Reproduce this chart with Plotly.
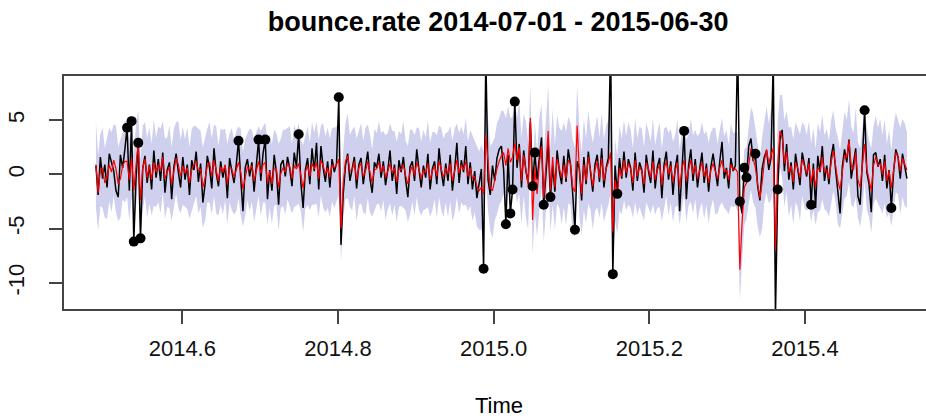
import plotly.graph_objects as go

# ---------------- data ----------------
T_START = 2014.489   # decimal-year position of first observation
T_END = 2015.531     # decimal-year position of last observation

ACTUAL = [
    0.8, -1.9, 1.6, -0.4, 0.9, -1.2, 1.9,
    1.2, 0.3, -1.5, -2.1, 1.8, 0.6, 2.3,
    4.3, -1.5, 4.9, -6.2, -0.4, 2.9, -5.9,
    0.5, 1.7, -0.8, 0.9, -1.4, 2.2, -0.3,
    1.4, -0.6, 2.0, -1.7, 0.4, 1.1, -2.3,
    0.7, 1.9, 0.2, -1.2, 1.6, -0.5, 0.9,
    -1.9, 1.3, 0.4, 2.1, -0.7, 1.0, -2.6,
    -0.9, 1.7, 0.6, -1.3, 2.4, 0.1, -1.1,
    1.2, -0.3, 0.8, -2.2, 1.5, 0.3, -0.8,
    0.9, 3.1, -0.4, -3.4, 0.6, 1.4, -0.2,
    1.1, -1.6, 0.8, 3.2, -0.6, 1.9, 3.2,
    -2.3, 0.4, -1.5, 1.8, 0.2, -2.8, 0.9,
    1.3, -0.2, 1.6, 0.5, -1.1, 2.0, 0.7,
    3.7, -0.8, -3.1, 0.4, 1.5, -0.9, 2.4,
    0.3, 2.9, -1.4, 2.6, 0.6, -0.7, 1.2,
    -1.2, 1.4, 0.2, 1.0, 7.1, -6.5, -1.8,
    0.8, 1.9, -0.6, 0.5, 1.6, -1.3, 0.9,
    1.5, -0.9, 0.7, 2.1, -0.4, -1.7, 1.1,
    0.6, 1.9, -0.3, 1.2, -1.0, 0.4, 2.2,
    -0.6, 0.9, -1.8, 1.3, 0.2, 1.6, -0.5,
    -2.1, 0.7, 1.2, -0.6, 2.3, 0.4, -1.2,
    0.8, -0.3, 1.9, -1.4, 0.5, 1.2, -0.9,
    2.4, 0.3, -1.1, 1.0, -0.6, 1.8, -1.5,
    0.4, 2.9, -0.8, 1.3, 0.2, 2.6, -0.9,
    1.1, -1.4, 0.3, -2.2, -0.9, 0.5, -8.7,
    11.0, -0.5, -1.9, 0.8, -0.6, 1.5, 2.3,
    2.6, 0.4, -4.6, 1.8, -3.6, -1.4, 6.7,
    0.6, 2.8, -1.2, 2.2, 0.3, -0.8, 4.8,
    -1.1, 2.0, -0.5, 1.4, 3.4, -2.8, 0.6,
    2.9, -2.1, 0.8, -1.6, 2.2, 0.3, -0.9,
    1.7, -0.7, 2.3, 0.9, -1.8, -5.1, 1.2,
    0.5, -2.4, 1.6, -0.9, 2.1, 0.2, -1.6,
    0.9, 1.8, -0.7, 2.4, -1.2, 0.6, 1.5,
    12.0, -9.2, 0.8, -1.8, 1.5, -0.4, 2.1,
    -0.3, 1.4, 0.6, -1.5, 2.0, -0.6, 1.1,
    0.4, -1.7, 1.8, 0.3, -0.8, 2.2, -1.3,
    0.7, 1.5, -2.2, 0.9, 2.1, -0.5, 1.2,
    -1.9, 0.6, 1.8, -3.4, 1.0, 4.0, -2.3,
    0.8, 2.3, -0.6, 1.4, -1.2, 0.5, 2.0,
    -0.8, 1.0, -1.6, 0.7, 1.9, 0.2, -1.1,
    1.2, 3.0, -0.4, 0.6, -1.3, 1.5, 0.3,
    0.8, 12.0, -2.5, -3.6, 0.6, -0.3, 2.6,
    3.3, 1.2, 1.9, -1.1, -2.4, 0.5, 1.6,
    2.2, 0.4, 1.5, 10.5, -13.0, -1.4, 3.2,
    4.1, 0.3, 2.8, -0.5, 1.1, -1.4, 1.9,
    0.4, -1.0, 2.0, 0.8, -0.2, 1.5, -2.8,
    1.0, -3.1, 1.7, 0.2, 2.6, -0.6, 0.8,
    -0.9, 1.6, 2.8, 0.4, -1.5, -3.6, 0.7,
    2.3, 1.1, 3.2, -0.4, 0.9, 2.4, -2.0,
    -2.8, 1.2, 5.9, 0.2, -0.9, -3.5, 1.8,
    2.0, 0.7, 1.4, -0.6, 1.8, -1.3, 0.4,
    -3.1, 0.2, 2.3, 1.6, -0.4, 1.9, 0.6,
    -0.4,
]

FITTED = [
    0.9, -1.7, 0.4, 0.6, -0.8, -0.3, 0.9,
    0.2, 1.3, 0.5, -0.9, -0.4, 0.8, 1.2,
    1.2, -0.5, 1.5, -1.5, 0.8, 2.9, -2.4,
    0.6, 1.4, -0.3, 0.8, -0.5, 1.1, 0.2,
    0.9, 0.3, 1.6, -0.4, 0.2, 0.7, -0.9,
    0.5, 1.5, 0.9, -0.2, 0.8, 0.1, 0.6,
    -0.8, 0.4, 0.9, 1.2, 0.3, 0.5, -1.2,
    -0.4, 0.8, 1.1, -0.2, 1.3, 0.4, -0.6,
    0.7, 0.2, 0.9, -0.9, 0.6, 0.5, -0.3,
    0.3, 1.1, 0.2, -1.4, -0.3, 0.7, 0.4,
    0.8, -0.6, 0.3, 1.2, 0.1, 0.9, 1.1,
    -0.8, 0.3, -0.9, 0.6, 0.5, -1.2, 0.1,
    0.6, 0.2, 1.0, 0.7, -0.4, 0.8, 0.5,
    1.0, -0.1, -1.3, 0.2, 0.8, -0.2, 1.0,
    0.5, 1.1, -0.4, 1.3, 0.8, 0.0, 0.6,
    -0.3, 0.9, 0.6, 0.9, 1.4, -5.0, -0.9,
    1.2, 1.7, 0.3, 0.4, 1.2, -0.5, 0.6,
    1.0, -0.2, 0.3, 1.2, 0.1, -0.8, 0.4,
    0.5, 1.1, 0.2, 0.8, -0.3, 0.3, 1.0,
    0.1, 0.6, -0.7, 0.5, 0.4, 0.9, -0.1,
    -0.9, 0.2, 0.8, -0.1, 1.1, 0.5, -0.4,
    0.4, 0.1, 1.0, -0.5, 0.3, 0.8, -0.2,
    1.2, 0.5, -0.3, 0.6, 0.0, 1.0, -0.6,
    0.3, 1.3, 0.1, 0.9, 0.4, 1.2, -0.2,
    0.6, -0.4, -0.2, -1.1, -1.5, -1.2, -1.8,
    3.6, 0.9, -1.3, -1.5, -0.4, 0.5, 1.2,
    1.7, 2.0, 0.8, 2.4, 1.1, 1.6, 2.9,
    1.3, 2.5, -0.6, 1.8, 0.4, -1.0, 5.2,
    -4.2, 0.6, -1.8, 0.9, 2.6, -2.2, 1.0,
    4.0, -1.5, 1.6, -1.2, 1.4, 0.6, -0.3,
    0.9, -0.4, 1.3, 1.0, -1.2, -1.6, 4.5,
    0.2, -1.8, 0.9, -0.6, 1.6, 0.4, -1.1,
    0.4, 1.2, -0.3, 1.5, -0.6, 0.5, 1.1,
    2.0, -5.3, -0.5, -1.9, 0.6, -0.2, 1.3,
    0.1, 1.0, 0.5, -0.8, 1.3, -0.2, 0.7,
    0.3, -0.9, 1.1, 0.5, -0.3, 1.2, -0.5,
    0.4, 0.9, -1.0, 0.5, 1.2, 0.0, 0.8,
    -0.7, 0.3, 1.1, -1.2, 0.5, 1.3, -0.6,
    0.4, 1.3, 0.0, 0.9, -0.4, 0.3, 1.1,
    -0.2, 0.6, -0.8, 0.4, 1.0, 0.3, -0.4,
    0.6, 1.3, 0.2, 0.4, -0.5, 0.9, 0.4,
    0.5, 0.2, -8.8, -4.5, -1.2, -0.8, 1.0,
    2.4, 1.5, 0.6, -0.9, -2.2, -0.8, 1.2,
    2.3, 1.0, 1.8, 2.4, -7.0, 0.8, 4.0,
    3.5, 1.0, 2.1, 0.2, 0.8, -0.7, 1.1,
    0.6, -0.3, 1.4, 0.7, 0.1, 1.0, -0.8,
    0.5, -1.2, 0.6, 0.3, 1.6, 0.2, 0.4,
    -0.4, 1.1, 2.2, 0.8, -0.6, -1.4, 0.2,
    1.8, 1.5, 3.1, 0.8, 0.4, 2.0, -0.5,
    -1.2, 0.6, 2.8, 0.5, -0.4, -1.5, 0.8,
    1.6, 0.8, 1.0, 0.0, 1.2, -0.6, 0.3,
    -1.3, 0.5, 2.0, 1.6, 0.3, 1.5, 0.9,
    0.4,
]

# half-width of the shaded prediction interval around the fitted line
HALF_WIDTH = [
    3.9, 3.5, 3.3, 3.7, 3.2, 3.8, 3.4,
    3.7, 3.3, 4.0, 3.4, 3.6, 3.1, 3.8,
    3.3, 3.8, 3.6, 3.2, 3.9, 3.0, 3.7,
    3.9, 3.4, 3.7, 3.5, 3.3, 4.0, 3.2,
    3.5, 3.9, 3.3, 3.7, 3.2, 3.8, 3.4,
    3.7, 3.3, 4.0, 3.4, 3.6, 3.1, 3.8,
    3.3, 3.8, 3.6, 3.2, 3.9, 3.5, 3.7,
    3.9, 3.4, 3.7, 3.5, 3.3, 4.0, 3.2,
    3.5, 3.9, 3.3, 3.7, 3.2, 3.8, 3.4,
    3.7, 3.3, 4.0, 3.4, 3.6, 3.1, 3.8,
    3.3, 3.8, 3.6, 3.2, 3.9, 3.5, 3.7,
    3.9, 3.4, 3.7, 3.5, 3.3, 4.0, 3.2,
    3.5, 3.9, 3.3, 3.7, 3.2, 3.8, 3.4,
    3.7, 3.3, 4.0, 3.4, 3.6, 3.1, 3.8,
    3.3, 3.8, 3.6, 3.2, 3.9, 3.5, 3.7,
    3.6, 3.4, 3.7, 3.5, 3.3, 3.0, 3.2,
    3.5, 3.9, 3.3, 3.7, 3.2, 3.8, 3.4,
    3.7, 3.3, 4.0, 3.4, 3.6, 3.1, 3.8,
    3.3, 3.8, 3.6, 3.2, 3.9, 3.5, 3.7,
    3.9, 3.4, 3.7, 3.5, 3.3, 4.0, 3.2,
    3.5, 3.9, 3.3, 3.7, 3.2, 3.8, 3.4,
    3.7, 3.3, 4.0, 3.4, 3.6, 3.1, 3.8,
    3.3, 3.8, 3.6, 3.2, 3.9, 3.5, 3.7,
    3.9, 3.4, 3.7, 3.5, 3.3, 4.0, 3.2,
    3.5, 3.9, 3.3, 3.7, 3.6, 3.9, 3.8,
    4.0, 4.3, 3.9, 4.4, 3.8, 4.2, 4.0,
    4.2, 3.8, 4.4, 3.9, 4.1, 3.7, 4.3,
    3.9, 4.3, 4.0, 3.8, 4.4, 4.1, 3.0,
    3.2, 4.2, 3.9, 4.3, 3.8, 4.1, 4.0,
    4.2, 3.8, 4.4, 3.9, 4.1, 3.7, 4.3,
    3.9, 4.3, 4.0, 3.8, 4.4, 4.1, 3.6,
    4.1, 3.8, 4.2, 3.9, 4.3, 3.7, 4.0,
    3.8, 4.2, 3.7, 4.1, 3.8, 4.0, 3.9,
    3.7, 3.4, 3.8, 3.6, 3.9, 3.5, 3.7,
    3.4, 3.8, 3.6, 3.2, 3.9, 3.5, 3.7,
    3.9, 3.4, 3.7, 3.5, 3.3, 4.0, 3.2,
    3.5, 3.9, 3.3, 3.7, 3.2, 3.8, 3.4,
    3.7, 3.3, 4.0, 3.4, 3.6, 3.1, 3.8,
    3.3, 3.8, 3.6, 3.2, 3.9, 3.5, 3.7,
    3.9, 3.4, 3.7, 3.5, 3.3, 4.0, 3.2,
    3.5, 3.9, 3.3, 3.7, 3.2, 3.8, 3.4,
    3.4, 3.6, 2.8, 3.2, 3.5, 3.3, 3.6,
    3.8, 4.1, 3.7, 3.9, 3.6, 4.2, 3.8,
    4.0, 3.7, 4.2, 3.8, 3.5, 4.1, 3.3,
    3.8, 4.0, 3.7, 4.1, 3.6, 3.9, 3.7,
    3.6, 4.0, 3.4, 3.8, 3.5, 3.9, 3.6,
    3.8, 3.5, 4.1, 3.6, 3.9, 3.4, 3.8,
    3.5, 3.9, 3.7, 3.4, 4.0, 3.6, 3.8,
    4.0, 3.5, 3.8, 3.6, 3.4, 4.1, 3.5,
    3.6, 4.0, 3.4, 3.8, 3.5, 3.9, 3.6,
    3.8, 3.5, 4.1, 3.6, 3.9, 3.4, 3.8,
    3.5, 3.9, 3.7, 3.4, 4.0, 3.6, 3.8,
    3.5,
]

# positions (0-based day index) of the flagged anomalies (black dots)
ANOMALY_IDX = [14, 16, 17, 19, 20, 64, 73, 76, 91, 109, 174, 184, 186, 187,
               188, 196, 197, 201, 204, 215, 232, 234, 264, 289, 291, 292, 296,
               306, 321, 345, 357]

TITLE = "bounce.rate 2014-07-01 - 2015-06-30"
X_LABEL = "Time"
X_TICKS = [2014.6, 2014.8, 2015.0, 2015.2, 2015.4]
X_TICK_LABELS = ["2014.6", "2014.8", "2015.0", "2015.2", "2015.4"]
Y_TICKS = [-10, -5, 0, 5]
Y_TICK_LABELS = ["-10", "-5", "0", "5"]

# ---------------- figure ----------------
n = len(ACTUAL)
time = [T_START + (T_END - T_START) * i / (n - 1) for i in range(n)]
upper = [f + w for f, w in zip(FITTED, HALF_WIDTH)]
lower = [f - w for f, w in zip(FITTED, HALF_WIDTH)]

BAND = "rgb(207,207,238)"
FONT = "Liberation Sans, Arial, sans-serif"

fig = go.Figure()
fig.add_trace(go.Scatter(
    x=time + time[::-1], y=upper + lower[::-1],
    mode="lines", fill="toself", fillcolor=BAND,
    line=dict(width=0, color=BAND), hoverinfo="skip", showlegend=False))
fig.add_trace(go.Scatter(
    x=time, y=ACTUAL, mode="lines",
    line=dict(color="black", width=1.5), showlegend=False))
fig.add_trace(go.Scatter(
    x=time, y=FITTED, mode="lines",
    line=dict(color="#ff0000", width=1.2), showlegend=False))
fig.add_trace(go.Scatter(
    x=[time[i] for i in ANOMALY_IDX], y=[ACTUAL[i] for i in ANOMALY_IDX],
    mode="markers", marker=dict(color="black", size=10), showlegend=False))

fig.update_layout(
    width=926, height=419,
    margin=dict(l=64, r=0, t=76, b=110),
    paper_bgcolor="white", plot_bgcolor="white",
    font=dict(family=FONT, color="black"),
    title=dict(text="<b>" + TITLE + "</b>", font=dict(size=27, family=FONT, color="black"),
               xref="container", x=0.538, xanchor="center",
               yref="container", y=0.948, yanchor="middle"),
    annotations=[dict(text=X_LABEL, xref="paper", yref="paper",
                      x=(499 - 64) / 862, y=(309 - 405) / 233,
                      xanchor="center", yanchor="middle", showarrow=False,
                      font=dict(size=22, family=FONT, color="black"))],
)
fig.update_xaxes(
    range=[2014.448, 2015.5555], tickvals=X_TICKS, ticktext=X_TICK_LABELS,
    showgrid=False, zeroline=False, showline=True, mirror=True,
    linecolor="#444", linewidth=1.5, ticks="outside", ticklen=13, tickwidth=1.5,
    tickcolor="#444", tickfont=dict(size=22, family=FONT, color="#111"),
    ticklabelstandoff=6)
fig.update_yaxes(
    range=[-12.41, 9.06], tickvals=Y_TICKS, ticktext=Y_TICK_LABELS,
    showgrid=False, zeroline=False, showline=True, mirror=False,
    linecolor="#444", linewidth=1.5, ticks="outside", ticklen=13, tickwidth=1.5,
    tickcolor="#444", tickangle=-90, tickfont=dict(size=22, family=FONT, color="#111"),
    ticklabelstandoff=16)

fig.write_html("out.html")
